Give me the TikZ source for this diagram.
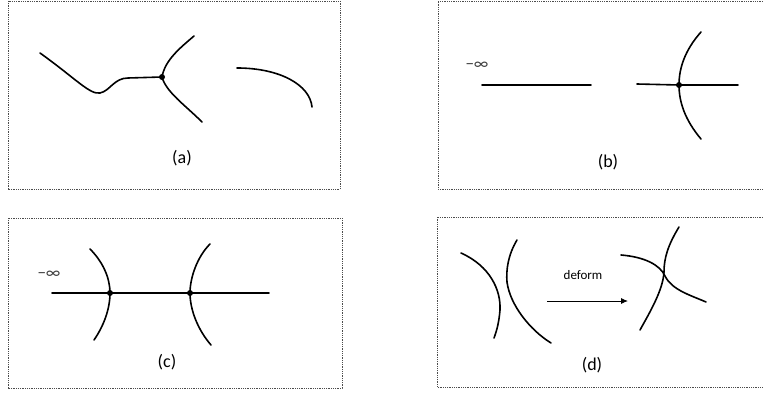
\documentclass[tikz,border=0pt]{standalone}
\usepackage{fontspec}
\setmainfont{Carlito}
\usetikzlibrary{arrows.meta}

\begin{document}
\begin{tikzpicture}[
    x=1pt, y=-1pt,
    frame/.style={draw=black!70, line width=0.7pt, dash pattern=on 0.9pt off 0.9pt},
    curve/.style={line width=1.6pt, line cap=round},
    dot/.style={circle, fill, inner sep=0pt, minimum size=6pt},
    caption/.style={font=\fontsize{18}{20}\selectfont},
    infty/.style={font=\fontsize{17}{19}\selectfont, text=black!75}
]

    \useasboundingbox (0,0) rectangle (763,393);

    \draw[frame] (8,1) rectangle (340,189);
    \draw[frame] (763,1) -- (438,1) -- (438,189) -- (763,189);
    \draw[frame] (8,218) rectangle (342,388);
    \draw[frame] (763,217) -- (437,217) -- (437,387) -- (763,387);

    \node[caption] (capA) at (182,158) {(a)};
    \node[caption] (capB) at (608,162) {(b)};
    \node[caption] (capC) at (167,362) {(c)};
    \node[caption] (capD) at (592,365) {(d)};

    \node[dot] (J) at (162,77) {};
    \draw[curve] (40,53) .. controls (75,78) and (90,95) .. (100,93)
        .. controls (110,91) and (114,78) .. (128,78) -- (J.center);
    \draw[curve] (J.center) .. controls (165,60) and (180,48) .. (194,36);
    \draw[curve] (J.center) .. controls (166,92) and (185,105) .. (202,122);
    \draw[curve] (237,68) .. controls (280,68) and (310,85) .. (312,107);

    \node[infty] (minfB) at (477,66) {−∞};
    \draw[curve] (482,85) -- (591,85);
    \node[dot] (P) at (679,85) {};
    \draw[curve] (637,84) -- (P.center) -- (738,85);
    \draw[curve] (701,32) .. controls (685,50) and (679,68) .. (P.center)
        .. controls (679,102) and (685,120) .. (701,139);

    \node[infty] (minfC) at (49,275) {−∞};
    \node[dot] (L) at (110,293) {};
    \node[dot] (R) at (190,293) {};
    \draw[curve] (52,293) -- (L.center) -- (R.center) -- (269,293);
    \draw[curve] (90,249) .. controls (103,262) and (110,278) .. (L.center)
        .. controls (110,310) and (103,327) .. (94,340);
    \draw[curve] (210,244) .. controls (197,257) and (190,278) .. (R.center)
        .. controls (190,310) and (198,330) .. (211,345);

    \draw[curve] (461,253) .. controls (490,266) and (501,290) .. (500,310)
        .. controls (499,322) and (497,330) .. (494,338);
    \draw[curve] (517,240) .. controls (508,255) and (506,270) .. (507,282)
        .. controls (510,305) and (530,330) .. (551,343);

    \coordinate (from) at (547,301);
    \coordinate (to) at (628,301);
    \draw[line width=0.9pt, -{Latex[length=7pt, width=6pt]}] (from) -- (to);
    \node[font=\fontsize{13}{15}\selectfont] (deform) at (583,275) {deform};

    \draw[curve] (679,227) .. controls (668,245) and (664,258) .. (664,272)
        .. controls (663,290) and (650,312) .. (640,330);
    \draw[curve] (621,255) .. controls (645,257) and (660,265) .. (665,276)
        .. controls (672,290) and (690,295) .. (706,302);

\end{tikzpicture}
\end{document}
